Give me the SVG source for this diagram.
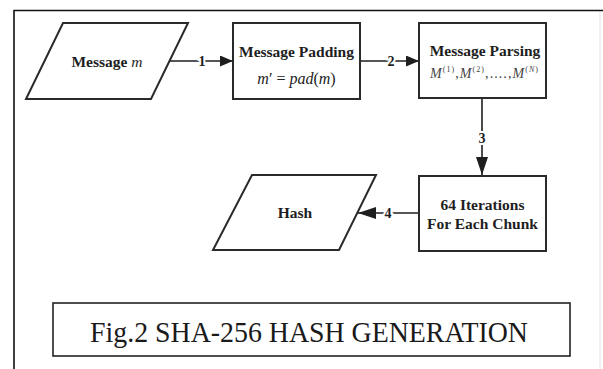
<svg xmlns="http://www.w3.org/2000/svg" width="603" height="369" viewBox="0 0 603 369">
  <style>
    .shape { fill: #fff; stroke: #2a2a2a; stroke-width: 2; }
    .lbl { font-family: "Liberation Serif", "Times New Roman", serif; font-weight: bold; font-size: 15.5px; fill: #1e1e1e; text-anchor: middle; }
    .math { font-family: "Liberation Serif", "Times New Roman", serif; font-size: 16px; fill: #222; text-anchor: middle; }
    .mseq { font-family: "Liberation Serif", "Times New Roman", serif; font-size: 14px; fill: #444; text-anchor: start; }
    .it { font-style: italic; }
    .conn { stroke: #1e1e1e; stroke-width: 1.6; fill: none; }
    .num { font-family: "Liberation Serif", "Times New Roman", serif; font-weight: bold; font-size: 14px; fill: #1e1e1e; text-anchor: middle; paint-order: stroke; stroke: #fff; stroke-width: 4px; }
    .cap { font-family: "Liberation Serif", "Times New Roman", serif; font-size: 29px; fill: #1a1a1a; }
  </style>
  <defs>
    <marker id="ahS" markerUnits="userSpaceOnUse" markerWidth="13" markerHeight="11" refX="13" refY="5.5" orient="auto">
      <path d="M0,0 L13,5.5 L0,11 Z" fill="#1e1e1e"/>
    </marker>
    <marker id="ahL" markerUnits="userSpaceOnUse" markerWidth="18" markerHeight="12" refX="18" refY="6" orient="auto">
      <path d="M0,0 L18,6 L0,12 Z" fill="#1e1e1e"/>
    </marker>
  </defs>

  <rect width="603" height="369" fill="#fff"/>

  <!-- outer frame -->
  <g id="frame">
    <path d="M14,369 L14,10.5 L603,10.5" fill="none" stroke="#111" stroke-width="1.6"/>
    <line x1="600" y1="12" x2="600" y2="369" stroke="#e2e2e2" stroke-width="1"/>
  </g>

  <g id="connectors">
    <line class="conn" x1="170" y1="61" x2="233" y2="61" marker-end="url(#ahS)"/>
    <text class="num" x="202" y="66">1</text>
    <line class="conn" x1="360" y1="61" x2="419" y2="61" marker-end="url(#ahS)"/>
    <text class="num" x="391" y="66">2</text>
    <line class="conn" x1="482" y1="98" x2="482" y2="175" marker-end="url(#ahL)"/>
    <text class="num" x="482" y="143">3</text>
    <line class="conn" x1="419" y1="213" x2="358" y2="213" marker-end="url(#ahL)"/>
    <text class="num" x="388" y="218">4</text>
  </g>

  <g id="message">
    <polygon class="shape" points="63,23 188,23 151,99 26,99"/>
    <text class="lbl" x="107" y="67">Message <tspan class="it" font-weight="normal">m</tspan></text>
  </g>

  <g id="padding">
    <rect class="shape" x="233" y="23" width="127" height="76"/>
    <text class="lbl" x="296.5" y="57">Message Padding</text>
    <text class="math" x="296.5" y="84"><tspan class="it">m</tspan>′ = <tspan class="it">pad</tspan>(<tspan class="it">m</tspan>)</text>
  </g>

  <g id="parsing">
    <rect class="shape" x="419" y="23" width="127" height="75"/>
    <text class="lbl" x="485" y="56">Message Parsing</text>
    <text class="mseq" x="430" y="78" textLength="108" lengthAdjust="spacing"><tspan class="it">M</tspan><tspan font-size="8" dy="-6">(1)</tspan><tspan dy="6">,</tspan><tspan class="it">M</tspan><tspan font-size="8" dy="-6">(2)</tspan><tspan dy="6">,....,</tspan><tspan class="it">M</tspan><tspan font-size="8" dy="-6">(<tspan class="it">N</tspan>)</tspan></text>
  </g>

  <g id="iterations">
    <rect class="shape" x="419" y="176" width="127" height="75"/>
    <text class="lbl" x="482.5" y="210">64 Iterations</text>
    <text class="lbl" x="482.5" y="229">For Each Chunk</text>
  </g>

  <g id="hash">
    <polygon class="shape" points="252,175 376,175 339,250 213,250"/>
    <text class="lbl" x="295" y="218">Hash</text>
  </g>

  <g id="caption">
    <rect x="53" y="303" width="517" height="53" fill="#fff" stroke="#222" stroke-width="1.6"/>
    <text class="cap" x="90" y="342" textLength="438" lengthAdjust="spacingAndGlyphs">Fig.2 SHA-256 HASH GENERATION</text>
  </g>
</svg>
